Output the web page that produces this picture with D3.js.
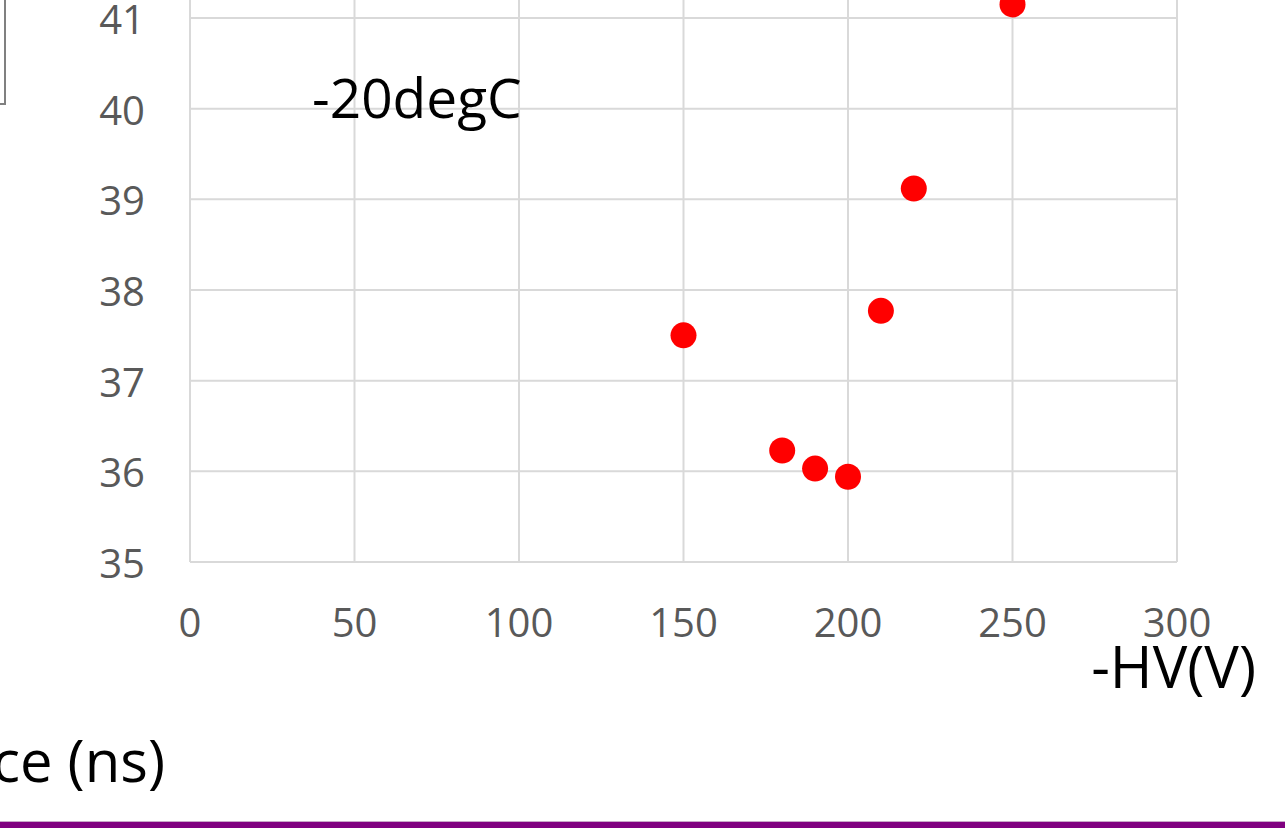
<!DOCTYPE html>
<html>
<head>
<meta charset="utf-8">
<script src="https://cdn.jsdelivr.net/npm/d3@7"></script>
<style>
  html, body { margin: 0; padding: 0; background: #fff; overflow: hidden; }
  svg { display: block; font-family: "Open Sans", sans-serif; }
</style>
</head>
<body>
<svg></svg>
<script>
var width = 1285;
var height = 828;

// data
var hv = [150, 180, 190, 200, 210, 220, 250];
var delay = [37.5, 36.23, 36.03, 35.94, 37.77, 39.12, 41.15];
var xTicks = [0, 50, 100, 150, 200, 250, 300];
var yTicks = [35, 36, 37, 38, 39, 40, 41, 42];

var svg = d3.select('svg')
    .attr("width", width)
    .attr("height", height);

// plot area runs off the top of the picture
var x = d3.scaleLinear().domain([0, 300]).range([190, 1177]);
var y = d3.scaleLinear().domain([35, 42]).range([562, 562 - 7 * 90.67]);

var grid = svg.append('g');

// horizontal grid lines
grid.selectAll('.hgrid')
    .data(yTicks)
    .enter().append('line')
    .attr("x1", x(0))
    .attr("x2", x(300))
    .attr("y1", d => y(d))
    .attr("y2", d => y(d))
    .attr("stroke", '#d9d9d9')
    .attr("stroke-width", 2);

// vertical grid lines
grid.selectAll('.vgrid')
    .data(xTicks)
    .enter().append('line')
    .attr("x1", d => x(d))
    .attr("x2", d => x(d))
    .attr("y1", y(35))
    .attr("y2", y(42))
    .attr("stroke", '#d9d9d9')
    .attr("stroke-width", 2);

// tick labels
svg.append('g').selectAll('text')
    .data(yTicks.slice(0, 7))
    .enter().append('text')
    .attr("x", 145)
    .attr("y", d => y(d) + 16)
    .attr("text-anchor", 'end')
    .attr("font-size", 40)
    .attr("fill", '#595959')
    .text(d => d);

svg.append('g').selectAll('text')
    .data(xTicks)
    .enter().append('text')
    .attr("x", d => x(d))
    .attr("y", 637)
    .attr("text-anchor", 'middle')
    .attr("font-size", 40)
    .attr("fill", '#595959')
    .text(d => d);

// points
svg.append('g').selectAll('circle')
    .data(hv)
    .enter().append('circle')
    .attr("cx", (d, i) => x(d))
    .attr("cy", (d, i) => y(delay[i]))
    .attr("r", 13)
    .attr("fill", '#ff0000');

// labels
svg.append('text')
    .attr("x", 312)
    .attr("y", 118)
    .attr("font-size", 55)
    .attr("fill", '#000')
    .text('-20degC');

svg.append('text')
    .attr("x", 1256)
    .attr("y", 688)
    .attr("text-anchor", 'end')
    .attr("font-size", 58)
    .attr("fill", '#000')
    .text('-HV(V)');

svg.append('text')
    .attr("x", 165)
    .attr("y", 782)
    .attr("text-anchor", 'end')
    .attr("font-size", 58)
    .attr("fill", '#000')
    .text('ce (ns)');

// edge of a box at the top left
svg.append('path')
    .attr("d", 'M5,0 V104 H0')
    .attr("fill", 'none')
    .attr("stroke", '#808080')
    .attr("stroke-width", 2);

// slide footer line
svg.append('rect')
    .attr("x", 0).attr("y", 821)
    .attr("width", width).attr("height", 1)
    .attr("fill", '#c8a8c8');
svg.append('rect')
    .attr("x", 0).attr("y", 822)
    .attr("width", width).attr("height", 6)
    .attr("fill", '#800080');
</script>
</body>
</html>
